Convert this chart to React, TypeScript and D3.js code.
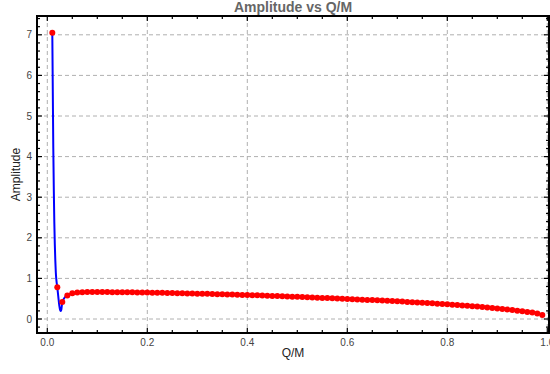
import React from "react";
import * as d3 from "d3";

const qm: number[] = d3.range(1, 100).map((i) => i / 100);
const amplitude: number[] = [
  7.05, 0.78, 0.42, 0.58, 0.635, 0.652, 0.66, 0.663, 0.664, 0.664,
  0.663, 0.662, 0.661, 0.66, 0.659, 0.657, 0.656, 0.654, 0.652, 0.65,
  0.648, 0.646, 0.644, 0.642, 0.639, 0.637, 0.634, 0.631, 0.628, 0.625,
  0.622, 0.619, 0.616, 0.612, 0.609, 0.605, 0.602, 0.598, 0.594, 0.59,
  0.586, 0.582, 0.578, 0.573, 0.569, 0.564, 0.56, 0.555, 0.55, 0.545,
  0.54, 0.535, 0.53, 0.525, 0.52, 0.515, 0.509, 0.504, 0.499, 0.494,
  0.488, 0.483, 0.477, 0.471, 0.465, 0.459, 0.453, 0.447, 0.441, 0.435,
  0.428, 0.421, 0.414, 0.407, 0.4, 0.392, 0.385, 0.377, 0.369, 0.361,
  0.352, 0.343, 0.334, 0.325, 0.315, 0.305, 0.294, 0.283, 0.272, 0.26,
  0.247, 0.234, 0.22, 0.206, 0.191, 0.175, 0.158, 0.138, 0.1,
];

// dense samples of the continuous (blue) curve near the start
const curveStartX: number[] = [
  0.01, 0.011, 0.012, 0.013, 0.014, 0.015, 0.016, 0.017, 0.018, 0.019, 0.02,
  0.022, 0.024, 0.026, 0.027, 0.028, 0.03, 0.035, 0.04,
];
const curveStartY: number[] = [
  7.05, 5.6, 4.2, 3.2, 2.4, 1.85, 1.45, 1.15, 0.98, 0.87, 0.78,
  0.55, 0.33, 0.21, 0.2, 0.23, 0.42, 0.53, 0.58,
];

const xMajorTicks: number[] = [0, 0.2, 0.4, 0.6, 0.8, 1.0];
const xTickLabels: string[] = ["0.0", "0.2", "0.4", "0.6", "0.8", "1.0"];
const yMajorTicks: number[] = [0, 1, 2, 3, 4, 5, 6, 7];

const W = 550;
const H = 374;
const left = 37;
const right = 549;
const top = 16;
const bottom = 333;

export default function App() {
  const x = d3.scaleLinear().domain([0, 1]).range([47.3, 547.3]);
  const y = d3.scaleLinear().domain([0, 7]).range([319, 34.8]);

  const xMinor = d3.range(-0.0, 1.0001, 0.05).filter(
    (v) => !xMajorTicks.some((m) => Math.abs(m - v) < 1e-6)
  );
  const yMinor = d3.range(-0.2, 7.41, 0.2).filter(
    (v) => !yMajorTicks.some((m) => Math.abs(m - v) < 1e-6) && y(v) > top && y(v) < bottom
  );

  const bluePts: [number, number][] = [];
  curveStartX.forEach((cx, i) => bluePts.push([cx, curveStartY[i]]));
  qm.forEach((q, i) => {
    if (q > 0.04 + 1e-9) bluePts.push([q, amplitude[i]]);
  });
  const line = d3
    .line<[number, number]>()
    .x((d) => x(d[0]))
    .y((d) => y(d[1]))
    .curve(d3.curveMonotoneX);

  const font = "'Liberation Sans', Arial, sans-serif";

  return (
    <svg width={W} height={H} style={{ position: "absolute", left: 0, top: 0 }}>
      <rect x={0} y={0} width={W} height={H} fill="#fff" />
      <defs>
        <clipPath id="plot">
          <rect x={left} y={top} width={right - left} height={bottom - top} />
        </clipPath>
      </defs>
      {/* grid */}
      <g stroke="#b0b0b0" strokeWidth={1} strokeDasharray="4,3">
        {xMajorTicks.map((t) => (
          <line key={"gx" + t} x1={x(t)} x2={x(t)} y1={top} y2={bottom} />
        ))}
        {yMajorTicks.map((t) => (
          <line key={"gy" + t} x1={left} x2={right} y1={y(t)} y2={y(t)} />
        ))}
      </g>
      {/* data */}
      <g clipPath="url(#plot)">
        <path d={line(bluePts) || ""} fill="none" stroke="#0000ff" strokeWidth={2} />
        {qm.map((q, i) => (
          <circle key={"p" + i} cx={x(q)} cy={y(amplitude[i])} r={3} fill="#ff0000" />
        ))}
      </g>
      {/* ticks */}
      <g stroke="#000" strokeWidth={1.2}>
        {xMajorTicks.map((t) => (
          <g key={"tx" + t}>
            <line x1={x(t)} x2={x(t)} y1={bottom} y2={bottom - 5} />
            <line x1={x(t)} x2={x(t)} y1={top} y2={top + 5} />
          </g>
        ))}
        {xMinor.map((t) => (
          <g key={"mx" + t}>
            <line x1={x(t)} x2={x(t)} y1={bottom} y2={bottom - 3} />
            <line x1={x(t)} x2={x(t)} y1={top} y2={top + 3} />
          </g>
        ))}
        {yMajorTicks.map((t) => (
          <g key={"ty" + t}>
            <line x1={left} x2={left + 5} y1={y(t)} y2={y(t)} />
            <line x1={right} x2={right - 5} y1={y(t)} y2={y(t)} />
          </g>
        ))}
        {yMinor.map((t) => (
          <g key={"my" + t}>
            <line x1={left} x2={left + 3} y1={y(t)} y2={y(t)} />
            <line x1={right} x2={right - 3} y1={y(t)} y2={y(t)} />
          </g>
        ))}
      </g>
      {/* frame */}
      <rect x={left} y={top} width={right - left} height={bottom - top} fill="none" stroke="#000" strokeWidth={2} />
      {/* tick labels */}
      <g fontFamily={font} fontSize={10} fill="#444">
        {xMajorTicks.map((t, i) => (
          <text key={"lx" + t} x={x(t)} y={346} textAnchor="middle">
            {xTickLabels[i]}
          </text>
        ))}
        {yMajorTicks.map((t) => (
          <text key={"ly" + t} x={32} y={y(t) + 3.5} textAnchor="end">
            {String(t)}
          </text>
        ))}
      </g>
      {/* titles */}
      <text x={(left + right) / 2} y={12} textAnchor="middle" fontFamily={font} fontSize={14} fontWeight="bold" fill="#666">
        Amplitude vs Q/M
      </text>
      <text x={(left + right) / 2} y={357} textAnchor="middle" fontFamily={font} fontSize={12} fill="#222">
        Q/M
      </text>
      <text
        transform={`translate(20, ${(top + bottom) / 2}) rotate(-90)`}
        textAnchor="middle"
        fontFamily={font}
        fontSize={12}
        fill="#222"
      >
        Amplitude
      </text>
    </svg>
  );
}
